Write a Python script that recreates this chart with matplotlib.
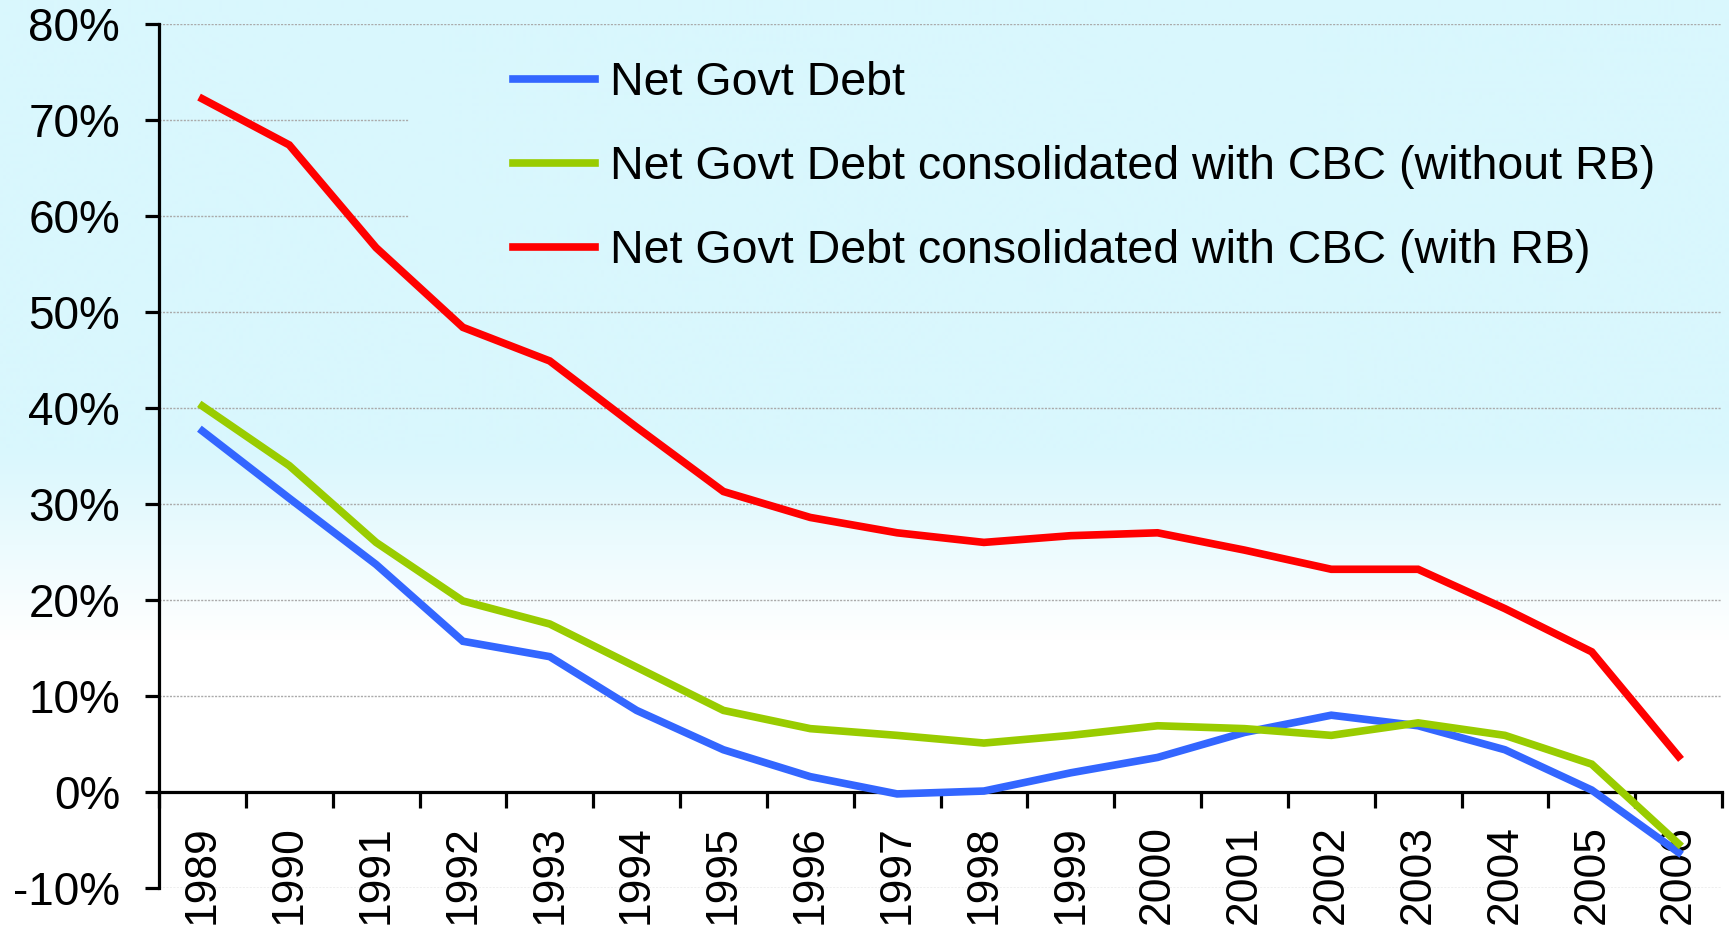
import numpy as np
import matplotlib
matplotlib.use('Agg')
import matplotlib.pyplot as plt
from matplotlib.ticker import FixedLocator, FuncFormatter

plt.rcParams['font.family'] = ['Liberation Sans', 'DejaVu Sans']

years = ['1989', '1990', '1991', '1992', '1993', '1994', '1995', '1996', '1997',
         '1998', '1999', '2000', '2001', '2002', '2003', '2004', '2005', '2006']
net_debt = [37.6, 30.6, 23.7, 15.7, 14.1, 8.5, 4.4, 1.6, -0.2,
            0.1, 2.0, 3.6, 6.2, 8.0, 6.9, 4.4, 0.2, -6.3]
cons_without_rb = [40.2, 34.0, 26.0, 19.9, 17.5, 13.0, 8.5, 6.6, 5.9,
                   5.1, 5.9, 6.9, 6.6, 5.9, 7.2, 5.9, 2.9, -5.4]
cons_with_rb = [72.2, 67.4, 56.7, 48.4, 44.9, 38.0, 31.3, 28.6, 27.0,
                26.0, 26.7, 27.0, 25.2, 23.2, 23.2, 19.1, 14.6, 3.7]
labels = ['Net Govt Debt',
          'Net Govt Debt consolidated with CBC (without RB)',
          'Net Govt Debt consolidated with CBC (with RB)']
colors = ['#3366ff', '#99cc00', '#ff0000']
grid_levels = [-10, 10, 20, 30, 40, 50, 60, 70, 80]

W, H = 1729, 930
fig = plt.figure(figsize=(W/100, H/100), dpi=100)

# light cyan fading to white towards the bottom
bg = fig.add_axes([0, 0, 1, 1], zorder=-1)
rows = np.arange(H)
w = np.interp(rows, [0, 450, 640, H], [1, 1, 0, 0])
cyan = np.array([217, 247, 253]) / 255.
grad = w[:, None] * cyan + (1 - w[:, None]) * np.ones(3)
bg.imshow(np.repeat(grad[:, None, :], 2, axis=1), aspect='auto', extent=[0, 1, 0, 1])
bg.axis('off')

left, right = 159/W, 1722/W
bottom, top = (H-888)/H, (H-24)/H
ax = fig.add_axes([left, bottom, right-left, top-bottom])
ax.set_facecolor('none')

x = np.arange(len(years))
for i in grid_levels:
    # legend sits over the 60/70 lines
    xm = 0.159 if i in (60, 70) else 1.0
    ax.axhline(i, xmin=0, xmax=xm, color='#aaaaaa', lw=1.0, ls=(0, (1.5, 1.0)), zorder=1)

series = [net_debt, cons_without_rb, cons_with_rb]
handles = []
for s, c, lab in zip(series, colors, labels):
    h, = ax.plot(x, s, color=c, lw=5.5, label=lab, zorder=3, solid_joinstyle='miter')
    handles.append(h)

ax.set_xlim(-0.5, len(years)-0.5)
ax.set_ylim(-10, 80)

for sp in ['top', 'right']:
    ax.spines[sp].set_visible(False)
ax.spines['left'].set_linewidth(2.3)
ax.spines['bottom'].set_linewidth(2.3)
ax.spines['bottom'].set_position(('data', 0))
ax.spines['bottom'].set_zorder(2)

ax.set_yticks(np.arange(-10, 81, 10))
ax.yaxis.set_major_formatter(FuncFormatter(lambda v, p: '%d%%' % v))
ax.tick_params(axis='y', direction='out', length=10, width=2.3, pad=18, labelsize=33)

ax.set_xticks(x)
ax.set_xticklabels(years, rotation=90, va='top', ha='center')
ax.xaxis.set_minor_locator(FixedLocator(np.arange(-0.5, len(years), 1.0)))
ax.tick_params(axis='x', which='major', length=0, pad=24, labelsize=32)
ax.tick_params(axis='x', which='minor', direction='out', length=11.5, width=2.3)

leg = ax.legend(handles=handles, loc='upper left', bbox_to_anchor=(513/W, (H-61)/H),
                bbox_transform=fig.transFigure, frameon=False, fontsize=33.5,
                handlelength=1.76, handletextpad=0.32, labelspacing=0.86,
                borderpad=0, borderaxespad=0)
for lh in leg.get_lines():
    lh.set_linewidth(5.5)

fig.savefig('out.png', dpi=100)
